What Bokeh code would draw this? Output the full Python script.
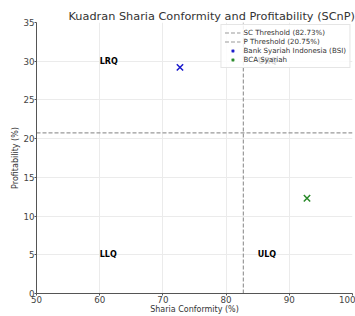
from bokeh.plotting import figure
from bokeh.models import Legend, LegendItem, FixedTicker, ColumnDataSource
from bokeh.core.properties import value
from bokeh.embed import file_html
from bokeh.resources import INLINE

banks = ["Bank Syariah Indonesia (BSI)", "BCA Syariah"]
sharia_conformity = [72.7, 92.8]
profitability = [29.2, 12.3]
bank_colors = ["#1a1acc", "#2a8a2a"]
sc_threshold = 82.73
p_threshold = 20.75
quadrant_labels = ["LRQ", "URQ", "LLQ", "ULQ"]
quadrant_x = [60, 85, 60, 85]
quadrant_y = [30, 30, 5, 5]
x_ticks = [50, 60, 70, 80, 90, 100]
y_ticks = [0, 5, 10, 15, 20, 25, 30, 35]
x_label = "Sharia Conformity (%)"
y_label = "Profitability (%)"

FONT = "DejaVu Sans"
GRAY = "#444444"

p = figure(width=355, height=316, x_range=(50, 100), y_range=(0, 35),
           output_backend="svg", toolbar_location=None,
           title="Kuadran Sharia Conformity and Profitability (SCnP)",
           min_border_left=36, min_border_right=3, min_border_top=22, min_border_bottom=22)
p.title.align = "left"
p.title.offset = 32
p.title.text_font = FONT
p.title.text_font_size = "11.3px"
p.title.text_font_style = "normal"
p.title.text_color = "#333333"
p.title.standoff = 0
p.outline_line_color = None
p.background_fill_color = "white"

p.xaxis.ticker = FixedTicker(ticks=x_ticks)
p.yaxis.ticker = FixedTicker(ticks=y_ticks)
for ax in (p.xaxis[0], p.yaxis[0]):
    ax.major_label_text_font = FONT
    ax.major_label_text_font_size = "8.7px"
    ax.major_label_text_color = GRAY
    ax.axis_label_text_font = FONT
    ax.axis_label_text_font_size = "8px"
    ax.axis_label_text_font_style = "normal"
    ax.axis_label_text_color = "#333333"
    ax.axis_line_color = "#555555"
    ax.major_tick_line_color = "#555555"
    ax.major_tick_out = 2
    ax.major_tick_in = 0
    ax.minor_tick_out = 0
    ax.minor_tick_in = 0
    ax.major_label_standoff = 0
    ax.axis_label_standoff = 0
p.xaxis.axis_label_standoff = -1
p.xaxis.axis_label = x_label
p.yaxis.axis_label = y_label
p.xgrid.grid_line_color = "#ebebeb"
p.ygrid.grid_line_color = "#ebebeb"

sc_line = p.line(x=[sc_threshold, sc_threshold], y=[0, 35], line_color="#999999",
                 line_dash="4 2", line_width=1.2)
p_line = p.line(x=[50, 100], y=[p_threshold, p_threshold], line_color="#999999",
                line_dash="4 2", line_width=1.2)

qsrc = ColumnDataSource(dict(x=quadrant_x, y=quadrant_y, t=quadrant_labels))
p.text(x="x", y="y", text="t", source=qsrc, text_font=value(FONT),
       text_font_size="8px", text_font_style="bold", text_color="black",
       text_align="left", text_baseline="middle")

renderers = []
for name, xv, yv, c in zip(banks, sharia_conformity, profitability, bank_colors):
    r = p.scatter(x=[xv], y=[yv], marker="x", size=9, line_color=c, line_width=1.5)
    renderers.append((name, r))

items = [LegendItem(label="SC Threshold (%.2f%%)" % sc_threshold, renderers=[sc_line]),
         LegendItem(label="P Threshold (%.2f%%)" % p_threshold, renderers=[p_line])]
items += [LegendItem(label=n, renderers=[r]) for n, r in renderers]
legend = Legend(items=items, location="top_right")
legend.label_text_font = FONT
legend.label_text_font_size = "7.1px"
legend.label_text_color = "#333333"
legend.label_height = 9
legend.glyph_height = 9
legend.glyph_width = 16
legend.spacing = 0
legend.padding = 3
legend.margin = 2
legend.label_standoff = 3
legend.border_line_color = "#cccccc"
legend.background_fill_alpha = 0.85
p.add_layout(legend)

open("out.html", "w").write(file_html(p, INLINE))
